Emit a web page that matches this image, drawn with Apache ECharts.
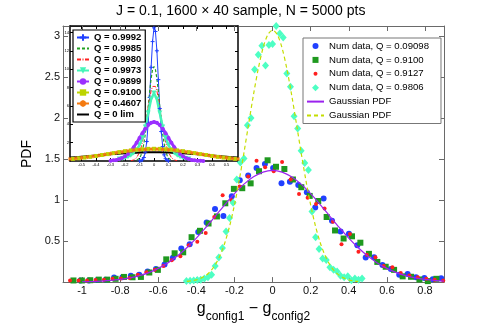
<!DOCTYPE html>
<html>
<head>
<meta charset="utf-8">
<script src="https://cdn.jsdelivr.net/npm/echarts@6/dist/echarts.min.js"></script>
<style>
  html, body { margin: 0; padding: 0; background: #fff; }
  #main { width: 491px; height: 328px; }
</style>
</head>
<body>
<div id="main"></div>
<script>
// main plot: binned PDFs
var blueX = [-1.008,-0.964,-0.920,-0.876,-0.832,-0.788,-0.744,-0.700,-0.656,-0.612,-0.567,-0.523,-0.479,-0.435,-0.390,-0.346,-0.302,-0.258,-0.214,-0.172,-0.128,-0.084,-0.040,0.003,0.047,0.091,0.135,0.180,0.224,0.268,0.312,0.357,0.401,0.445,0.489,0.533,0.577,0.621,0.665,0.709,0.753,0.797,0.841,0.885];
var blueY = [0.02,0.02,0.025,0.03,0.055,0.06,0.078,0.09,0.129,0.16,0.215,0.297,0.41,0.461,0.609,0.726,0.89,0.804,1.047,1.241,1.30,1.39,1.44,1.39,1.203,1.222,1.183,1.094,0.91,1.02,0.746,0.617,0.59,0.449,0.30,0.304,0.207,0.16,0.09,0.098,0.06,0.051,0.035,0.047];

var greenX = [-1.045,-1.001,-0.957,-0.912,-0.868,-0.824,-0.780,-0.735,-0.691,-0.647,-0.602,-0.558,-0.514,-0.469,-0.425,-0.381,-0.336,-0.292,-0.248,-0.203,-0.159,-0.115,-0.071,-0.026,0.018,0.062,0.107,0.151,0.195,0.240,0.284,0.328,0.373,0.417,0.461,0.506,0.550,0.594,0.638,0.683,0.727,0.771,0.815,0.860];
var greenY = [0.02,0.02,0.023,0.03,0.03,0.04,0.063,0.059,0.063,0.117,0.149,0.277,0.351,0.363,0.547,0.625,0.714,0.80,0.96,1.136,1.144,1.203,1.351,1.484,1.405,1.378,1.25,1.156,1.05,0.988,0.793,0.629,0.531,0.558,0.48,0.344,0.246,0.187,0.149,0.07,0.065,0.032,0.012,0.04];

var redX = [-1.063,-1.018,-0.974,-0.929,-0.885,-0.840,-0.796,-0.751,-0.707,-0.662,-0.618,-0.573,-0.529,-0.484,-0.440,-0.395,-0.351,-0.306,-0.262,-0.217,-0.173,-0.128,-0.084,-0.039,0.006,0.050,0.095,0.139,0.184,0.228,0.273,0.317,0.362,0.406,0.451,0.495,0.540,0.584,0.629,0.673,0.718,0.762,0.807,0.851,0.896];
var redY = [0.02,0.02,0.02,0.025,0.03,0.04,0.045,0.05,0.09,0.12,0.15,0.195,0.266,0.316,0.449,0.492,0.597,0.793,1.059,1.00,1.164,1.288,1.477,1.40,1.35,1.464,1.249,1.074,1.027,0.95,0.898,0.734,0.461,0.586,0.371,0.333,0.304,0.195,0.18,0.11,0.08,0.059,0.04,0.03,0.02];

var cyanX = [-0.452,-0.433,-0.414,-0.395,-0.377,-0.358,-0.339,-0.320,-0.301,-0.282,-0.263,-0.244,-0.226,-0.207,-0.188,-0.169,-0.150,-0.132,-0.113,-0.094,-0.075,-0.056,-0.037,-0.019,0.000,0.019,0.038,0.056,0.075,0.094,0.113,0.132,0.150,0.169,0.188,0.207,0.226,0.244,0.263,0.282,0.301,0.320,0.339,0.357,0.376,0.395,0.414,0.432,0.451,0.470];
var cyanY = [0.012,0.015,0.02,0.025,0.03,0.045,0.06,0.09,0.195,0.30,0.414,0.617,0.78,0.968,1.25,1.457,1.507,1.91,2.0,2.59,2.77,2.88,2.64,2.89,2.90,3.12,3.03,2.98,2.54,2.38,2.02,1.87,1.60,1.45,1.367,0.859,0.547,0.403,0.286,0.27,0.18,0.149,0.13,0.078,0.06,0.07,0.023,0.043,0.03,0.043];

var gaussWideX = [-1.0,-0.95,-0.9,-0.85,-0.8,-0.75,-0.7,-0.65,-0.6,-0.55,-0.5,-0.45,-0.4,-0.35,-0.3,-0.25,-0.2,-0.15,-0.1,-0.05,0,0.05,0.1,0.15,0.2,0.25,0.3,0.35,0.4,0.45,0.5,0.55,0.6,0.65,0.7,0.75,0.8,0.85,0.9];
var gaussWideY = [0.004,0.007,0.012,0.020,0.033,0.051,0.078,0.116,0.167,0.234,0.317,0.418,0.536,0.666,0.805,0.945,1.077,1.193,1.283,1.340,1.360,1.340,1.283,1.193,1.077,0.945,0.805,0.666,0.536,0.418,0.317,0.234,0.167,0.116,0.078,0.051,0.033,0.020,0.012];

var gaussNarrowX = [-0.45,-0.425,-0.4,-0.375,-0.35,-0.325,-0.3,-0.275,-0.25,-0.225,-0.2,-0.175,-0.15,-0.125,-0.1,-0.075,-0.05,-0.025,0,0.025,0.05,0.075,0.1,0.125,0.15,0.175,0.2,0.225,0.25,0.275,0.3,0.325,0.35,0.375,0.4,0.425,0.45];
var gaussNarrowY = [0.008,0.015,0.027,0.048,0.082,0.135,0.214,0.328,0.483,0.686,0.940,1.241,1.578,1.934,2.284,2.599,2.851,3.014,3.07,3.014,2.851,2.599,2.284,1.934,1.578,1.241,0.940,0.686,0.483,0.328,0.214,0.135,0.082,0.048,0.027,0.015,0.008];

// inset curves
var q9992X = [-0.10,-0.09,-0.08,-0.07,-0.06,-0.05,-0.04,-0.03,-0.02,-0.01,0,0.01,0.02,0.03,0.04,0.05,0.06,0.07,0.08,0.09,0.10];
var q9992Y = [0.01,0.04,0.13,0.38,0.96,2.12,4.10,6.92,10.2,13.0,14.5,14.1,12.0,8.86,5.71,3.21,1.57,0.67,0.25,0.08,0.02];
var q9985X = [-0.12,-0.10,-0.09,-0.08,-0.07,-0.06,-0.05,-0.04,-0.03,-0.02,-0.01,0,0.01,0.02,0.03,0.04,0.05,0.06,0.07,0.08,0.09,0.10,0.12];
var q9985Y = [0.07,0.32,0.63,1.13,1.89,2.96,4.34,5.92,7.55,8.97,9.95,10.3,9.95,8.97,7.55,5.92,4.34,2.96,1.89,1.13,0.63,0.32,0.07];
var q9980X = [-0.16,-0.14,-0.12,-0.10,-0.09,-0.08,-0.07,-0.06,-0.05,-0.04,-0.03,-0.02,-0.01,0,0.01,0.02,0.03,0.04,0.05,0.06,0.07,0.08,0.09,0.10,0.12,0.14,0.16];
var q9980Y = [0.03,0.12,0.36,0.95,1.43,2.07,2.87,3.80,4.82,5.87,6.83,7.61,8.12,8.3,8.12,7.61,6.83,5.87,4.82,3.80,2.87,2.07,1.43,0.95,0.36,0.12,0.03];
var q9973X = [-0.24,-0.22,-0.20,-0.18,-0.16,-0.14,-0.12,-0.10,-0.08,-0.06,-0.04,-0.02,0,0.02,0.04,0.06,0.08,0.10,0.12,0.14,0.16,0.18,0.20,0.22,0.24];
var q9973Y = [0.22,0.28,0.36,0.47,0.63,0.86,1.21,1.73,2.53,3.70,5.23,6.73,7.4,6.73,5.23,3.70,2.53,1.73,1.21,0.86,0.63,0.47,0.36,0.28,0.22];
var q9899X = [-0.30,-0.28,-0.26,-0.24,-0.22,-0.20,-0.18,-0.16,-0.14,-0.12,-0.10,-0.08,-0.06,-0.04,-0.02,0,0.02,0.04,0.06,0.08,0.10,0.12,0.14,0.16,0.18,0.20,0.22,0.24,0.26,0.28,0.30,0.32,0.34];
var q9899Y = [0.04,0.07,0.12,0.21,0.33,0.52,0.77,1.10,1.51,1.99,2.51,3.03,3.52,3.91,4.16,4.25,4.16,3.91,3.52,3.03,2.51,1.99,1.51,1.10,0.77,0.52,0.33,0.21,0.12,0.07,0.04,0.02,0.01];
var q9100X = [-0.56,-0.52,-0.48,-0.44,-0.40,-0.36,-0.32,-0.28,-0.24,-0.20,-0.16,-0.12,-0.08,-0.04,0,0.04,0.08,0.12,0.16,0.20,0.24,0.28,0.32,0.36,0.40,0.44,0.48,0.52,0.56];
var q9100Y = [0.23,0.30,0.37,0.45,0.55,0.65,0.75,0.86,0.97,1.07,1.15,1.23,1.28,1.32,1.33,1.32,1.28,1.23,1.15,1.07,0.97,0.86,0.75,0.65,0.55,0.45,0.37,0.30,0.23];
var q4607X = [-0.58,-0.54,-0.50,-0.46,-0.42,-0.38,-0.34,-0.30,-0.26,-0.22,-0.18,-0.14,-0.10,-0.06,-0.02,0.02,0.06,0.10,0.14,0.18,0.22,0.26,0.30,0.34,0.38,0.42,0.46,0.50,0.54,0.58];
var q4607Y = [0.22,0.28,0.35,0.43,0.51,0.60,0.70,0.80,0.90,0.99,1.08,1.16,1.22,1.26,1.28,1.28,1.26,1.22,1.16,1.08,0.99,0.90,0.80,0.70,0.60,0.51,0.43,0.35,0.28,0.22];
var q0X = [-0.58,-0.52,-0.44,-0.36,-0.28,-0.20,-0.12,-0.04,0.04,0.12,0.20,0.28,0.36,0.44,0.52,0.58];
var q0Y = [0.37,0.44,0.55,0.66,0.76,0.85,0.91,0.95,0.95,0.91,0.85,0.76,0.66,0.55,0.44,0.37];

// tick labels
var mainXTicks = [-1, -0.8, -0.6, -0.4, -0.2, 0, 0.2, 0.4, 0.6, 0.8];
var mainYTicks = [0.5, 1, 1.5, 2, 2.5, 3];
var insetXTicks = [-0.5, -0.4, -0.3, -0.2, -0.1, 0, 0.1, 0.2, 0.3, 0.4, 0.5];
var insetYTicks = [2, 4, 6, 8, 10, 12, 14];

function zip(xs, ys) {
    var out = [];
    for (var i = 0; i < xs.length; i++) out.push([xs[i], ys[i]]);
    return out;
}

var FONT = 'Liberation Sans, Arial, sans-serif';
var plusPath = 'path://M0,-1V1M-1,0H1';
var starPath = 'path://M0,-1V1M-1,0H1M-0.7,-0.7L0.7,0.7M-0.7,0.7L0.7,-0.7';

var dom = document.getElementById('main');
var myChart = echarts.init(dom);

function mainAxisX(pos, labels) {
    return {
        gridIndex: 0, type: 'value', position: pos, min: -1.1, max: 0.9,
        axisLine: {show: true, onZero: false, lineStyle: {color: '#6a6a6a', width: 1}},
        axisTick: {inside: true, length: 5, customValues: mainXTicks, lineStyle: {color: '#6a6a6a'}},
        axisLabel: {show: labels, customValues: mainXTicks, fontSize: 11, color: '#111', margin: 3, fontFamily: FONT},
        splitLine: {show: false}
    };
}
function mainAxisY(pos, labels) {
    return {
        gridIndex: 0, type: 'value', position: pos, min: 0, max: 3.12,
        axisLine: {show: true, onZero: false, lineStyle: {color: '#6a6a6a', width: 1}},
        axisTick: {inside: true, length: 5, customValues: mainYTicks, lineStyle: {color: '#6a6a6a'}},
        axisLabel: {show: labels, customValues: mainYTicks, fontSize: 11, color: '#111', margin: 3, fontFamily: FONT},
        splitLine: {show: false}
    };
}
function insetAxisX(pos, labels) {
    return {
        gridIndex: 1, type: 'value', position: pos, min: -0.58, max: 0.58,
        axisLine: {show: true, onZero: false, lineStyle: {color: '#000', width: 1.5}},
        axisTick: {inside: true, length: 3, customValues: insetXTicks, lineStyle: {color: '#000'}},
        axisLabel: {show: labels, customValues: insetXTicks, fontSize: 4, color: '#000', margin: 2, fontFamily: FONT},
        splitLine: {show: false}
    };
}
function insetAxisY(pos, labels) {
    return {
        gridIndex: 1, type: 'value', position: pos, min: 0, max: 14.7,
        axisLine: {show: true, onZero: false, lineStyle: {color: '#000', width: 1.5}},
        axisTick: {inside: true, length: 3, customValues: insetYTicks, lineStyle: {color: '#000'}},
        axisLabel: {show: labels, customValues: insetYTicks, fontSize: 4, color: '#000', margin: 1, fontFamily: FONT},
        splitLine: {show: false}
    };
}

var xMain = mainAxisX('bottom', true);
xMain.name = '{g|g}{s|config1}{g| − g}{s|config2}';
xMain.nameLocation = 'middle';
xMain.nameGap = 8;
xMain.nameTextStyle = {
    rich: {
        g: {fontSize: 16, fontFamily: FONT, color: '#000', lineHeight: 22, verticalAlign: 'top'},
        s: {fontSize: 12, fontFamily: FONT, color: '#000', lineHeight: 22, verticalAlign: 'bottom'}
    }
};
var yMain = mainAxisY('left', true);
yMain.name = 'PDF';
yMain.nameLocation = 'middle';
yMain.nameGap = 17;
yMain.nameTextStyle = {fontSize: 14, fontFamily: FONT, color: '#000'};

var option = {
    animation: false,
    backgroundColor: '#fff',
    textStyle: {fontFamily: FONT},
    title: {
        text: 'J = 0.1, 1600 × 40 sample, N = 5000 pts',
        left: 116, top: 4, padding: 0,
        textStyle: {fontSize: 14, fontWeight: 'normal', color: '#000', fontFamily: FONT}
    },
    grid: [
        {left: 63, right: 47, top: 26, bottom: 36},
        {left: 70, right: 253, top: 26, bottom: 167, show: true, backgroundColor: '#fff', borderWidth: 0}
    ],
    xAxis: [xMain, mainAxisX('top', false), insetAxisX('bottom', true), insetAxisX('top', false)],
    yAxis: [yMain, mainAxisY('right', false), insetAxisY('left', true), insetAxisY('right', false)],
    legend: [
        {
            orient: 'vertical', left: 303, top: 38, selectedMode: false,
            itemWidth: 17, itemHeight: 10, itemGap: 3.9, padding: [3, 12, 3, 3],
            borderColor: '#777', borderWidth: 1, backgroundColor: '#fff',
            textStyle: {fontSize: 9.6, color: '#000', fontFamily: FONT},
            data: [
                {name: 'Num data, Q = 0.09098', icon: 'path://M0,0M10,10M2,5A3,3,0,1,1,8,5A3,3,0,1,1,2,5Z'},
                {name: 'Num data, Q = 0.9100', icon: 'path://M0,0M10,10M2,2H8V8H2Z'},
                {name: 'Num data, Q = 0.9127', icon: 'path://M0,0M10,10M3,5A2,2,0,1,1,7,5A2,2,0,1,1,3,5Z'},
                {name: 'Num data, Q = 0.9806', icon: 'path://M0,0M10,10M5,1.5L8.5,5L5,8.5L1.5,5Z'},
                {name: 'Gaussian PDF', itemStyle: {opacity: 0}},
                {name: 'Gaussian PDF ', itemStyle: {opacity: 0}}
            ]
        },
        {
            orient: 'vertical', left: 73, top: 30, selectedMode: false,
            itemWidth: 12, itemHeight: 8, itemGap: 0, padding: [2, 4, 2, 3],
            borderColor: '#000', borderWidth: 1.2, backgroundColor: '#fff',
            textStyle: {fontSize: 9.5, lineHeight: 11, fontWeight: 'bold', color: '#000', fontFamily: FONT},
            data: ['Q = 0.9992', 'Q = 0.9985', 'Q = 0.9980', 'Q = 0.9973', 'Q = 0.9899', 'Q = 0.9100', 'Q = 0.4607', 'Q = 0 lim']
        }
    ],
    series: [
        {name: 'Num data, Q = 0.09098', type: 'scatter', xAxisIndex: 0, yAxisIndex: 0,
         data: zip(blueX, blueY), symbol: 'circle', symbolSize: 6, itemStyle: {color: '#2140ff', opacity: 1}},
        {name: 'Num data, Q = 0.9100', type: 'scatter', xAxisIndex: 0, yAxisIndex: 0,
         data: zip(greenX, greenY), symbol: 'rect', symbolSize: 6, itemStyle: {color: '#1f991f', opacity: 1}},
        {name: 'Num data, Q = 0.9127', type: 'scatter', xAxisIndex: 0, yAxisIndex: 0,
         data: zip(redX, redY), symbol: 'circle', symbolSize: 4, itemStyle: {color: '#ff1f1f', opacity: 1}},
        {name: 'Num data, Q = 0.9806', type: 'scatter', xAxisIndex: 0, yAxisIndex: 0,
         data: zip(cyanX, cyanY), symbol: 'diamond', symbolSize: [7, 8], itemStyle: {color: '#4dffc3', opacity: 1}},
        {name: 'Gaussian PDF', type: 'line', xAxisIndex: 0, yAxisIndex: 0, smooth: 0.3,
         data: zip(gaussWideX, gaussWideY), symbol: 'none',
         lineStyle: {color: '#9b22ee', width: 1.2}, itemStyle: {color: '#9b22ee'}},
        {name: 'Gaussian PDF ', type: 'line', xAxisIndex: 0, yAxisIndex: 0, smooth: 0.3,
         data: zip(gaussNarrowX, gaussNarrowY), symbol: 'none',
         lineStyle: {color: '#c4dd00', width: 1.2, type: [4, 3]}, itemStyle: {color: '#c4dd00'}},

        // inset
        {name: 'Q = 0.9992', type: 'line', xAxisIndex: 2, yAxisIndex: 2, data: zip(q9992X, q9992Y),
         symbol: plusPath, symbolSize: 4, lineStyle: {color: '#1f3fff', width: 1},
         itemStyle: {color: '#1f3fff', borderColor: '#1f3fff', borderWidth: 1}},
        {name: 'Q = 0.9985', type: 'line', xAxisIndex: 2, yAxisIndex: 2, data: zip(q9985X, q9985Y),
         symbol: 'none', lineStyle: {color: '#22a022', width: 1.2, type: [3, 2]}, itemStyle: {color: '#22a022', opacity: 0}},
        {name: 'Q = 0.9980', type: 'line', xAxisIndex: 2, yAxisIndex: 2, data: zip(q9980X, q9980Y),
         symbol: 'none', lineStyle: {color: '#ff2020', width: 1, type: [4, 1.5, 1, 1.5]}, itemStyle: {color: '#ff2020', opacity: 0}},
        {name: 'Q = 0.9973', type: 'line', xAxisIndex: 2, yAxisIndex: 2, data: zip(q9973X, q9973Y),
         symbol: 'triangle', symbolRotate: 180, symbolSize: 5, lineStyle: {color: '#45f5b8', width: 2.5},
         itemStyle: {color: '#45f5b8'}},
        {name: 'Q = 0.9899', type: 'line', xAxisIndex: 2, yAxisIndex: 2, data: zip(q9899X, q9899Y),
         symbol: 'circle', symbolSize: 4, lineStyle: {color: '#9b30ff', width: 3},
         itemStyle: {color: '#9b30ff'}},
        {name: 'Q = 0.9100', type: 'line', xAxisIndex: 2, yAxisIndex: 2, data: zip(q9100X, q9100Y),
         symbol: 'rect', symbolSize: 4, lineStyle: {color: '#bcd400', width: 2},
         itemStyle: {color: '#bcd400'}},
        {name: 'Q = 0.4607', type: 'line', xAxisIndex: 2, yAxisIndex: 2, data: zip(q4607X, q4607Y),
         symbol: starPath, symbolSize: 4, lineStyle: {color: '#f47a10', width: 1.5},
         itemStyle: {color: '#f47a10', borderColor: '#f47a10', borderWidth: 1}},
        {name: 'Q = 0 lim', type: 'line', xAxisIndex: 2, yAxisIndex: 2, data: zip(q0X, q0Y), smooth: 0.3,
         symbol: 'none', lineStyle: {color: '#000', width: 2}, itemStyle: {color: '#000', opacity: 0}}
    ]
};

myChart.setOption(option);
</script>
</body>
</html>
